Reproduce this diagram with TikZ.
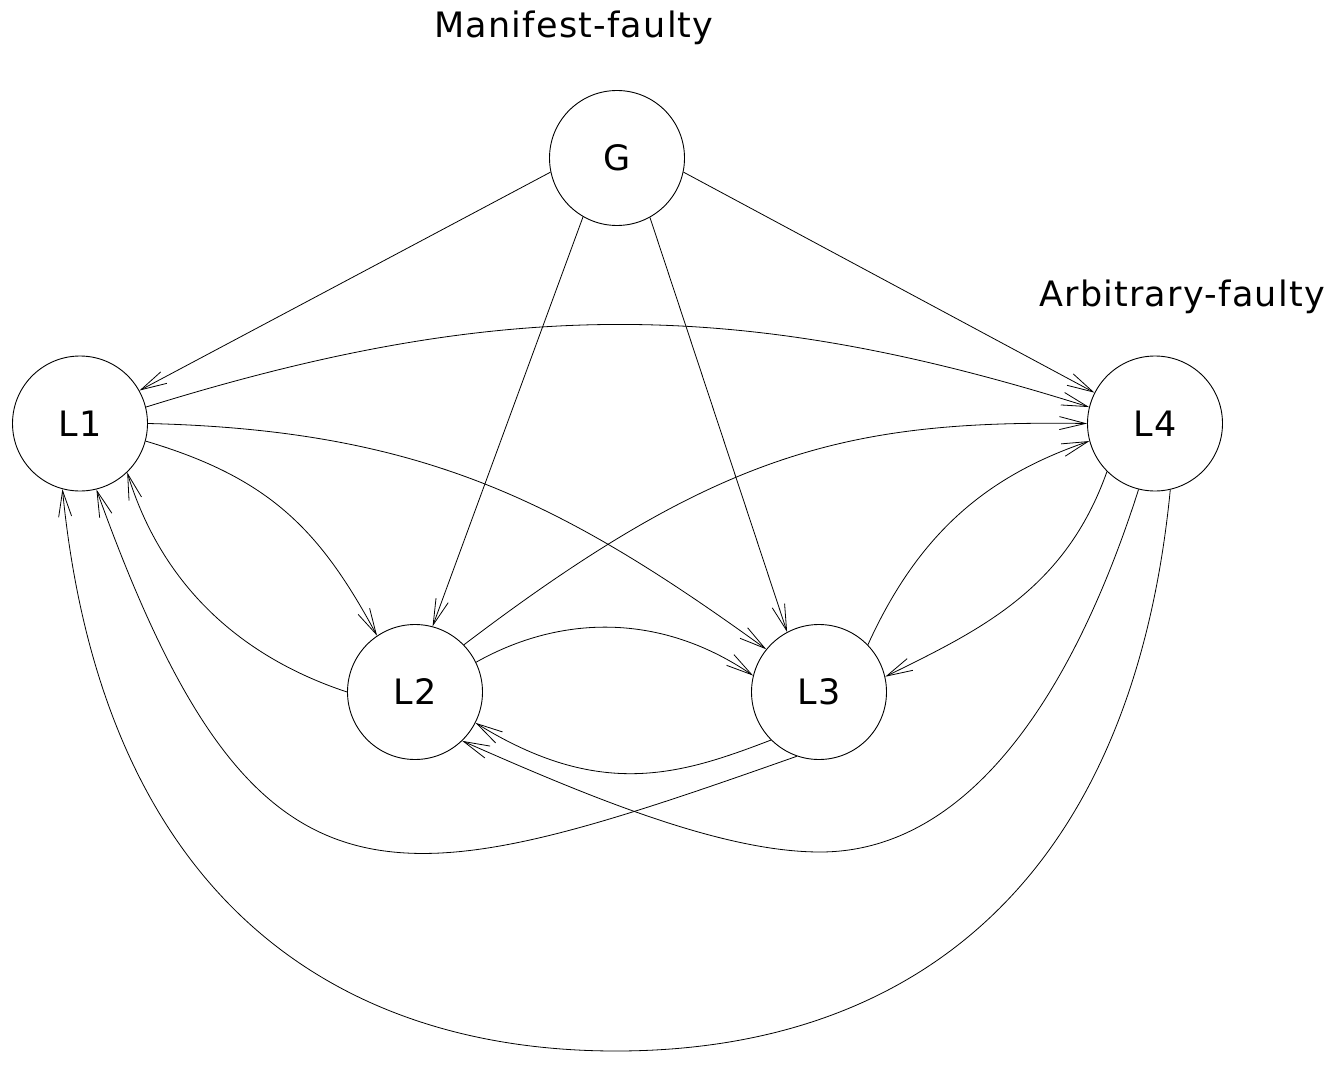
\documentclass[tikz,border=0pt]{standalone}
\usepackage{fontspec}
\setmainfont{DejaVu Sans}[LetterSpace=3.5]
\usetikzlibrary{arrows.meta}
\tikzset{
  state/.style={circle, draw, line width=0.9pt, minimum size=135pt, inner sep=0pt, font=\fontsize{35}{40}\selectfont},
  lbl/.style={anchor=base, inner sep=0pt, font=\fontsize{35}{40}\selectfont},
  edge/.style={line width=0.8pt, -{Straight Barb[length=26pt,width=13pt,line width=0.8pt]}}
}
\begin{document}
\begin{tikzpicture}[x=1pt,y=-1pt]
\useasboundingbox (0,0) rectangle (1330,1067);
\node[state] (G)  at (617,158) {G};
\node[state] (L1) at (80,423.5) {L1};
\node[state] (L2) at (415,692) {L2};
\node[state] (L3) at (819,692) {L3};
\node[state] (L4) at (1155,423.5) {L4};
\node[lbl] (mf) at (574,38) {Manifest-faulty};
\node[lbl] (af) at (1182,306) {Arbitrary-faulty};
\coordinate (b15) at (820,852);
\coordinate (b16) at (616,1051);
% from G
\draw[edge] (G.192) -- (L1.29);
\draw[edge] (G.240) -- (L2.75);
\draw[edge] (G.299) -- (L3.118);
\draw[edge] (G.348) -- (L4.153);
% from L1
\draw[edge] (L1.14) .. controls (500,297) and (740,297) .. (L4.166);
\draw[edge] (L1.0) .. controls (420,430) and (560,500) .. (L3.141);
\draw[edge] (L1.345) .. controls (270,478) and (320,530) .. (L2.124);
% from L2
\draw[edge] (L2.180) .. controls (235,655) and (160,580) .. (L1.314);
\draw[edge] (L2.44) .. controls (720,450) and (850,420) .. (L4.180);
\draw[edge] (L2.26) .. controls (560,615) and (660,612) .. (L3.166);
% from L3
\draw[edge] (L3.44) .. controls (920,530) and (990,475) .. (L4.195);
\draw[edge] (L3.225) .. controls (680,775) and (600,800) .. (L2.333);
\draw[edge] (L3.251) .. controls (389,900) and (257,937) .. (L1.284);
% from L4
\draw[edge] (L4.225) .. controls (1065,590) and (980,630) .. (L3.13);
\draw[edge] (L4.256) .. controls (1074,692) and (970,852) .. (b15) .. controls (720,852) and (585,795) .. (L2.314);
\draw[edge] (L4.283) .. controls (1131,892) and (903,1051) .. (b16) .. controls (330,1051) and (102,892) .. (L1.255);
\end{tikzpicture}
\end{document}
